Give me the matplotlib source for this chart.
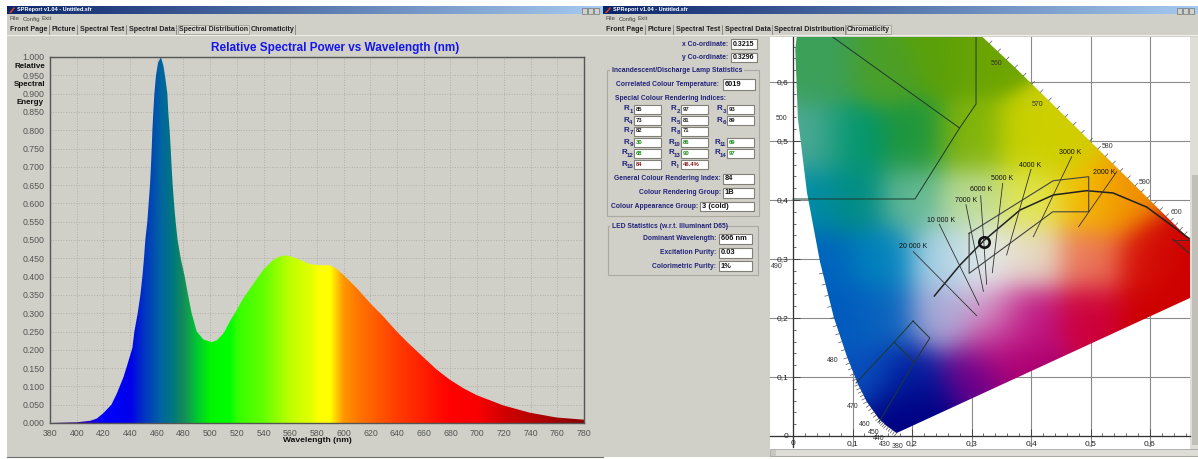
import numpy as np
import matplotlib
matplotlib.use('Agg')
import matplotlib.pyplot as plt
from matplotlib.patches import Rectangle, Polygon

plt.rcParams['font.family'] = ['Liberation Sans', 'DejaVu Sans']

W, H = 1198, 459

# spectrum
wavelengths = [380, 400, 410, 415, 420, 426, 430, 435, 438, 441.7, 443.2, 445.7, 447.7, 449.2, 450.4, 451.4, 452.9, 453.9,
               454.9, 455.6, 456.2, 456.7, 457.4, 458.2, 459.4, 461, 463.1, 465, 466.1, 467.9, 468.6, 469.6, 470.4, 471.1, 471.9,
               472.9, 474.1, 475.6, 477.9, 480.9, 483.4, 486.1, 489.9, 495, 501.1, 505, 510, 514.8, 520, 524.8, 539.8,
               547.3, 552, 557.3, 562, 567.2, 574.7, 582, 589.7, 595, 599.7, 609.7, 619.7, 629.7, 639.7, 649.6, 659.6, 669.6,
               679.6, 689.6, 699.6, 719.6, 739.5, 759.5, 780]
power = [0, .002, .006, .012, .027, .05, .08, .125, .16, .205, .25, .3, .35, .4, .45, .5, .55, .6,
         .65, .7, .75, .8, .85, .9, .95, .985, 1.0, .975, .95, .9, .85, .8, .75, .7, .65,
         .6, .55, .5, .45, .4, .35, .3, .25, .228, .221, .226, .245, .278, .31, .341, .419,
         .446, .455, .458, .453, .446, .434, .431, .431, .42, .405, .369, .328, .291, .25, .214, .18, .146,
         .118, .095, .076, .048, .028, .015, .009]
grad_wl = [380, 400, 420, 440, 450, 463, 472, 480, 490, 500, 515, 520, 540, 560, 575, 582, 590, 595, 600, 610, 620, 640, 660, 680, 700, 720, 760, 780]
grad_rgb = [(60, 0, 120), (70, 0, 170), (0, 0, 255), (0, 0, 235), (0, 50, 195), (0, 100, 160), (0, 120, 125), (20, 140, 90),
            (0, 200, 50), (0, 245, 0), (0, 255, 0), (50, 255, 0), (100, 255, 0), (190, 255, 0), (225, 255, 0), (255, 255, 0),
            (255, 255, 0), (255, 200, 0), (255, 150, 0), (255, 120, 0), (255, 100, 0), (255, 60, 0), (255, 30, 0), (255, 0, 0),
            (250, 0, 0), (210, 0, 0), (160, 0, 0), (140, 0, 0)]

# chromaticity diagram
locus_x = [.1741, .1566, .1440, .1241, .1096, .0913, .0687, .0454, .0235, .0082, .0039, .0139, .0743, .1547, .2296, .3016, .3731, .4441, .5125, .5752, .627, .6658, .7347]
locus_y = [.005, .0177, .0297, .0578, .0868, .1327, .2007, .2950, .4127, .5384, .6548, .7502, .8338, .8059, .7543, .6923, .6245, .5547, .4866, .4242, .3725, .334, .2653]
field_x = [.05, .15, .25, .32, .03, .1, .2, .3, .4, .45, .03, .1, .2, .3, .4, .5, .55, .05, .15, .25, .32, .4, .5, .6, .65, .08, .15, .25, .33, .4, .5, .6, .12, .2, .3, .4, .17, .22, .67, .35]
field_y = [.62, .62, .65, .65, .5, .5, .5, .5, .5, .5, .4, .4, .4, .4, .4, .4, .4, .3, .3, .3, .3, .3, .3, .3, .3, .2, .2, .2, .2, .2, .2, .2, .1, .1, .1, .1, .03, .03, .25, .15]
field_rgb = [(60, 160, 90), (75, 160, 40), (90, 160, 10), (110, 165, 0),
             (80, 170, 150), (0, 150, 110), (30, 150, 60), (130, 180, 10), (200, 210, 0), (210, 205, 0),
             (0, 140, 170), (0, 140, 130), (100, 185, 150), (190, 220, 150), (225, 230, 80), (245, 195, 0), (240, 140, 0),
             (0, 100, 190), (0, 130, 190), (170, 210, 230), (230, 235, 235), (230, 220, 200), (235, 120, 90), (215, 20, 10), (205, 0, 0),
             (0, 90, 190), (10, 100, 190), (170, 170, 215), (215, 170, 210), (190, 20, 130), (205, 0, 60), (205, 0, 0),
             (10, 80, 190), (0, 30, 160), (100, 0, 140), (170, 0, 110), (0, 0, 130), (0, 0, 130), (205, 0, 0), (190, 0, 120)]
planck_x = [.2375, .2807, .32, .3815, .4375, .4936, .538, .5945, .639, .667]
planck_y = [.2373, .2898, .3305, .383, .4085, .4158, .4119, .388, .3547, .334]
box_x = [.296, .4375, .497, .497, .4365, .296, .296]
box_y = [.3435, .4327, .4395, .380, .380, .2757, .3435]
green_x = [.067, .28]
green_y = [.676, .522]
green2_x = [.3076, .3076, .28, .205, 0]
green2_y = [.676, .5627, .522, .4017, .4017]
blue_x = [.2017, .230, .204, .170, .2017]
blue_y = [.1949, .166, .125, .159, .1949]
blue2_x = [.170, .1059]
blue2_y = [.159, .0898]
blue3_x = [.204, .1445]
blue3_y = [.125, .0237]
red_x = [.639, .667]
red_y = [.333, .309]
cct_names = ['2000 K', '3000 K', '4000 K', '5000 K', '6000 K', '7000 K', '10 000 K', '20 000 K']
cct_x0 = [.544, .4684, .40, .3524, .3154, .2907, .2459, .2022]
cct_y0 = [.448, .4734, .452, .4283, .4073, .392, .3588, .3124]
cct_x1 = [.480, .4039, .359, .335, .3255, .32, .3126, .3087]
cct_y1 = [.3547, .3378, .3068, .2768, .2571, .2452, .222, .2039]
cct_lx = [.523, .4665, .3992, .3513, .3157, .2908, .2487, .2017]
cct_ly = [.446, .4813, .4593, .4356, .417, .4, .3661, .3220]
nm_names = ['500', '490', '480', '470', '460', '450', '440', '430', '380', '560', '570', '580', '590', '600']
nm_px = [782, 777, 833, 853, 865, 874, 879, 885, 898, 997, 1038, 1108, 1145, 1176]
nm_py = [119, 267, 361, 407, 425, 433, 439, 444, 447, 64, 105, 146, 183, 213]
point_x, point_y = 0.3215, 0.3296

tab_names = ['Front Page', 'Picture', 'Spectral Test', 'Spectral Data', 'Spectral Distribution', 'Chromaticity']
tab_x0 = [8, 50, 78, 127, 178, 250]
tab_x1 = [49, 77, 126, 176, 249, 295]

GREY = '#d0d0c8'
NAVY = '#22227a'

fig = plt.figure(figsize=(W / 100, H / 100), dpi=100, facecolor='white')


def rect_px(x0, y0, x1, y1):
    return [x0 / W, 1 - y1 / H, (x1 - x0) / W, (y1 - y0) / H]


bg = fig.add_axes([0, 0, 1, 1])
bg.set_xlim(0, W)
bg.set_ylim(H, 0)
bg.axis('off')


def field(x0, y0, x1, y1, txt, color='#111111', size=5.0):
    bg.add_patch(Rectangle((x0, y0), x1 - x0, y1 - y0, fc='white', ec='#808078', lw=0.8))
    bg.text(x0 + 2, (y0 + y1) / 2, txt, color=color, fontsize=size, fontweight='bold', va='center', ha='left')


def label(x, y, txt, ha='right', size=4.85, color=NAVY):
    bg.text(x, y, txt, color=color, fontsize=size, fontweight='bold', va='center', ha=ha)


def window(x0, x1, dx):
    bg.add_patch(Rectangle((x0, 6), x1 - x0, H - 6 - 2, fc=GREY, ec='none'))
    t = np.linspace(0, 1, 300)[None, :, None]
    grad = (1 - t) * np.array([[[10, 36, 106]]]) / 255 + t * np.array([[[166, 202, 240]]]) / 255
    bg.imshow(grad, extent=(x0, x1, 14, 6), aspect='auto', zorder=1)
    bg.text(x0 + 10, 10, 'SPReport v1.04 - Untitled.sfr', color='white', fontsize=4.0, fontweight='bold', va='center', zorder=2)
    bg.add_patch(Polygon([(x0 + 2, 13), (x0 + 7, 7), (x0 + 8, 8), (x0 + 4, 13)], fc='#e04020', ec='none', zorder=2))
    for bx in (x1 - 21, x1 - 15, x1 - 9):
        bg.add_patch(Rectangle((bx, 8), 5, 5.5, fc=GREY, ec='#606060', lw=0.4, zorder=2))
    for mx, name in zip((x0 + 3, x0 + 16, x0 + 35), ('File', 'Config', 'Exit')):
        bg.text(mx, 19, name, color='#444444', fontsize=4.4, va='center')
    bg.plot([x0, x1], [34.5, 34.5], color='#f0f0ea', lw=0.8)
    for a, b, name in zip(tab_x0, tab_x1, tab_names):
        sel = name == active[dx]
        if sel:
            bg.add_patch(Rectangle((a + dx, 25), b - a, 9, fc='#dcdcd4', ec='#a0a098', lw=0.6))
        else:
            bg.plot([b + dx, b + dx], [25, 34], color='#808078', lw=0.6)
        bg.text((a + b) / 2 + dx, 29.5, name, color='#222222', fontsize=5.1 if not sel else 5.0, fontweight='bold',
                va='center', ha='center')


active = {0: 'Spectral Distribution', 596: 'Chromaticity'}
window(7, 603, 0)
window(603, 1198, 596)
bg.plot([7, 603], [457, 457], color='#707070', lw=0.8)

# left panel, spectrum
bg.text(335, 48.5, 'Relative Spectral Power vs Wavelength (nm)', color='#1515ee', fontsize=8.5, fontweight='bold', ha='center', va='center')
bg.text(317, 440.5, 'Wavelength (nm)', color='#111111', fontsize=6.1, fontweight='bold', ha='center', va='center')
for yy, name in zip((66, 84, 102), ('Relative', 'Spectral', 'Energy')):
    bg.text(30, yy, name, color='#111111', fontsize=5.8, fontweight='bold', ha='center', va='center')

ax = fig.add_axes(rect_px(50, 57, 584, 423))
ax.set_facecolor(GREY)
ax.set_xlim(380, 780)
ax.set_ylim(0, 1)
ax.set_xticks(np.arange(380, 781, 20))
ax.set_yticks(np.arange(0, 1.001, 0.05))
ax.set_yticklabels([f'{v:.3f}' for v in np.arange(0, 1.001, 0.05)])
ax.tick_params(length=0, labelsize=6.3, labelcolor='#555555', pad=4)
ax.grid(True, color='#b0b0a8', ls=':', lw=0.7)
ax.set_axisbelow(True)
for s in ax.spines.values():
    s.set_color('#555555')
    s.set_linewidth(1.0)
xs = np.linspace(380, 780, 800)
grad_arr = np.array(grad_rgb) / 255
colors = np.stack([np.interp(xs, grad_wl, grad_arr[:, i]) for i in range(3)], axis=1)[None, :, :]
im = ax.imshow(colors, extent=(380, 780, 0, 1), aspect='auto', zorder=2)
curve = Polygon(list(zip(wavelengths, power)) + [(780, 0), (380, 0)], transform=ax.transData, fc='none', ec='none')
ax.add_patch(curve)
im.set_clip_path(curve)

# right panel, form
label(728, 44, 'x Co-ordinate:')
field(731, 39, 757, 49, '0.3215')
label(728, 57.5, 'y Co-ordinate:')
field(731, 53, 757, 62, '0.3296')
bg.add_patch(Rectangle((607, 70), 152, 146, fc='none', ec='#aaaaa2', lw=0.8))
bg.add_patch(Rectangle((610, 67), 134, 6, fc=GREY, ec='none'))
label(612, 70, 'Incandescent/Discharge Lamp Statistics', ha='left')
label(719, 84.5, 'Correlated Colour Temperature:')
field(723, 79, 755, 90, '6019', size=5.4)
label(615, 98, 'Special Colour Rendering Indices:', ha='left')

cri_rows = [105, 116, 126.5, 138, 149, 160]
cri_cols = [634, 681, 727]
cri_names = [['1', '2', '3'], ['4', '5', '6'], ['7', '8', None], ['9', '10', '11'], ['12', '13', '14'], ['15', 'I', None]]
cri_vals = [['85', '97', '93'], ['73', '81', '89'], ['82', '71', None], ['30', '86', '69'], ['68', '90', '97'], ['84', '46.4%', None]]
cri_cols_txt = ['#222222', '#222222', '#222222', '#1a8a1a', '#1a8a1a', '#8a1a1a']
for ry, names, vals, col in zip(cri_rows, cri_names, cri_vals, cri_cols_txt):
    for cx0, n, v in zip(cri_cols, names, vals):
        if n is None:
            continue
        field(cx0, ry, cx0 + 27, ry + 9, v, color=col, size=4.2)
        sub_x = cx0 - 2 - 2.6 * len(n)
        bg.text(sub_x, ry + 4, 'R', color=NAVY, fontsize=5.8, fontweight='bold', ha='right', va='center')
        bg.text(sub_x, ry + 6.5, n, color=NAVY, fontsize=4.4, fontweight='bold', ha='left', va='center')

label(721, 179, 'General Colour Rendering Index:')
field(723, 174, 754, 184, '84', size=5.4)
label(721, 193, 'Colour Rendering Group:')
field(723, 188, 754, 198, '1B', size=5.4)
label(698, 206.5, 'Colour Appearance Group:')
field(700, 202, 754, 211, '3 (cold)', size=5.4)

bg.add_patch(Rectangle((608, 226), 150, 49, fc='none', ec='#aaaaa2', lw=0.8))
bg.add_patch(Rectangle((610, 223), 116, 6, fc=GREY, ec='none'))
label(612, 226.5, 'LED Statistics (w.r.t. Illuminant D65)', ha='left')
label(716, 239, 'Dominant Wavelength:')
field(719, 234, 752, 244, '606 nm', size=5.4)
label(716, 253, 'Excitation Purity:')
field(719, 248, 752, 258, '0.03', size=5.4)
label(716, 266, 'Colorimetric Purity:')
field(719, 261, 752, 271, '1%', size=5.4)

# right panel, chromaticity
bg.add_patch(Rectangle((770, 37), 428, 418, fc='white', ec='none'))
bg.add_patch(Rectangle((1190, 37), 8, 418, fc='#deded6', ec='none'))
bg.add_patch(Rectangle((1192, 175), 6, 270, fc='#c0c0b8', ec='none'))
bg.add_patch(Rectangle((770, 449), 428, 7, fc='#c8c8c0', ec='#909088', lw=0.4))
bg.add_patch(Rectangle((776, 449.5), 560, 6, fc='#deded6', ec='none', clip_on=True))

cx = fig.add_axes(rect_px(770, 37, 1190, 447))
cx.patch.set_alpha(0)
cx.set_xlim((770 - 793) / 595, (1190 - 793) / 595)
cx.set_ylim((436 - 447) / 590, (436 - 37) / 590)
cx.spines['top'].set_visible(False)
cx.spines['right'].set_visible(False)
cx.spines['left'].set_position(('data', 0))
cx.spines['bottom'].set_position(('data', 0))
for s in ('left', 'bottom'):
    cx.spines[s].set_color('#333333')
    cx.spines[s].set_linewidth(0.9)
maj = np.arange(0, 0.61, 0.1)
cx.set_xticks(maj)
cx.set_yticks(maj)
tick_txt = ['0'] + [f'0,{i}' for i in range(1, 7)]
cx.set_xticklabels(tick_txt)
cx.set_yticklabels(tick_txt)
cx.set_xticks(np.arange(0, 0.661, 0.02), minor=True)
cx.set_yticks(np.arange(0, 0.661, 0.02), minor=True)
cx.tick_params(which='major', direction='in', length=5, width=0.7, color='#444444', labelsize=6.0, labelcolor='#222222', pad=3)
cx.tick_params(which='minor', direction='in', length=2.5, width=0.6, color='#555555')
cx.grid(True, which='major', color='#8a8a8a', lw=0.8)
cx.set_axisbelow(True)

gx, gy = np.meshgrid(np.linspace(0, .75, 300), np.linspace(0, .85, 340))
fx, fy = np.array(field_x), np.array(field_y)
d2 = (gx[..., None] - fx) ** 2 + (gy[..., None] - fy) ** 2
wgt = np.exp(-d2 / (2 * .038 ** 2)) + 1e-12
img = (wgt[..., None] * (np.array(field_rgb) / 255)).sum(axis=2) / wgt.sum(axis=2, keepdims=True)
fim = cx.imshow(img, extent=(0, .75, 0, .85), origin='lower', aspect='auto', zorder=1.5)
cx.set_xlim((770 - 793) / 595, (1190 - 793) / 595)
cx.set_ylim((436 - 447) / 590, (436 - 37) / 590)
horseshoe = Polygon(list(zip(locus_x, locus_y)), transform=cx.transData, fc='none', ec='none')
cx.add_patch(horseshoe)
fim.set_clip_path(horseshoe)

# hair ticks along the spectrum edge
for i in range(len(locus_x) - 1):
    if 7 <= i <= 12:
        continue
    ax0, ay0, ax1, ay1 = locus_x[i], locus_y[i], locus_x[i + 1], locus_y[i + 1]
    ln = np.hypot(ax1 - ax0, ay1 - ay0)
    nx, ny = (ay1 - ay0) / ln, -(ax1 - ax0) / ln
    nx, ny = abs(nx) * (1 if i > 12 else -1), abs(ny) * (1 if i > 12 else -1)
    for t in np.linspace(0, 1, 6)[:-1]:
        px, py = ax0 + t * (ax1 - ax0), ay0 + t * (ay1 - ay0)
        cx.plot([px, px + nx * .006], [py, py + ny * .006], color='#555555', lw=0.5, zorder=2.2)

cx.plot(planck_x, planck_y, color='#222222', lw=1.1, zorder=3)
cx.plot(box_x, box_y, color='#444444', lw=0.8, zorder=3)
for a, b in ((green_x, green_y), (green2_x, green2_y), (blue_x, blue_y), (blue2_x, blue2_y), (blue3_x, blue3_y), (red_x, red_y)):
    cx.plot(a, b, color='#1c3a2c', lw=0.7, zorder=3)
cx.plot([.639, .667], [.333, .333], color='#552222', lw=0.7, zorder=3)
for x0, y0, x1, y1, name, lx, ly in zip(cct_x0, cct_y0, cct_x1, cct_y1, cct_names, cct_lx, cct_ly):
    cx.plot([x0, x1], [y0, y1], color='#333333', lw=0.6, zorder=3)
    cx.text(lx, ly, name, color='#111111', fontsize=5.0, ha='center', va='center', zorder=4)
cx.plot([point_x], [point_y], marker='o', ms=7.5, mfc='none', mec='#111111', mew=1.9, zorder=5)
for name, px, py in zip(nm_names, nm_px, nm_py):
    cx.text((px - 793) / 595, (436 - py) / 590, name, color='#333333', fontsize=5.0, ha='center', va='center', zorder=4)

plt.savefig('out.png', dpi=100)
